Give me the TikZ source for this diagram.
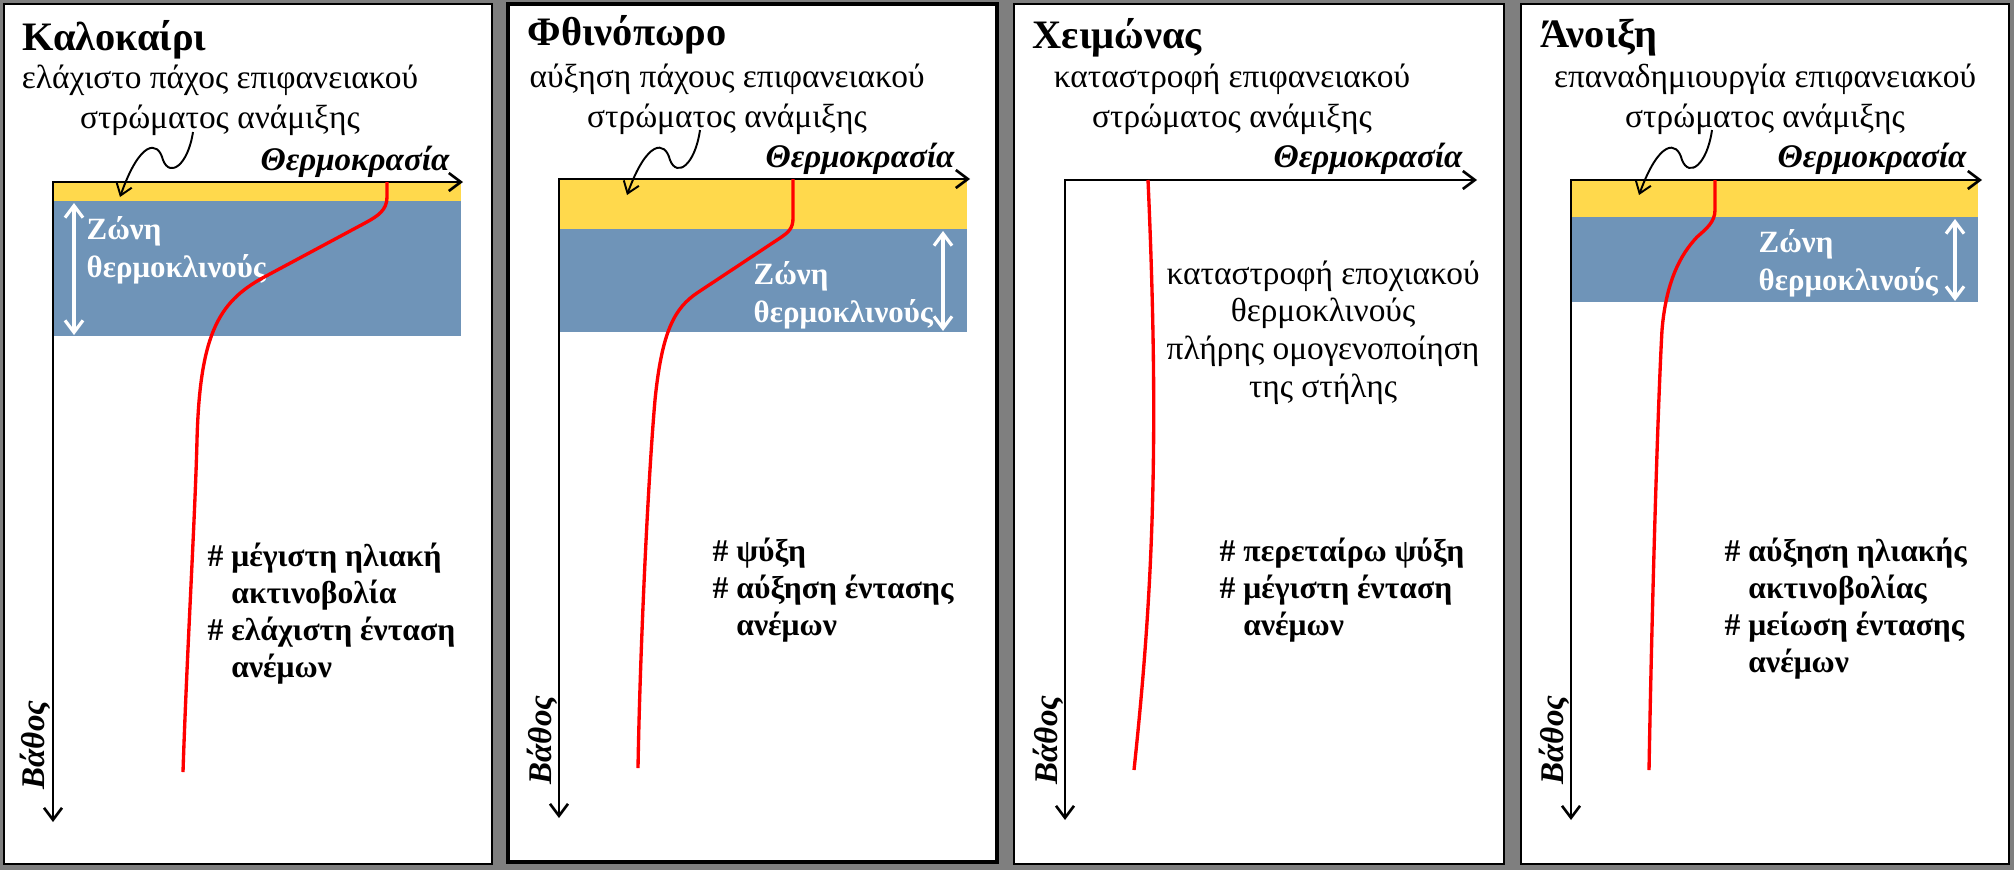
\documentclass[tikz,border=0pt]{standalone}
\usepackage{fontspec}
\setmainfont{Liberation Serif}
\usetikzlibrary{arrows.meta}
\definecolor{bggray}{RGB}{127,127,127}
\definecolor{mixyellow}{RGB}{255,217,76}
\definecolor{thermoblue}{RGB}{111,148,184}
\tikzset{
  panel/.style={draw=black,line width=0.8pt,fill=white},
  axis/.style={line width=0.75pt,{Straight Barb[length=1.2mm,width=1.8mm]}-{Straight Barb[length=1.2mm,width=1.8mm]}},
  profile/.style={red,line width=0.95pt},
  wavyarrow/.style={line width=0.55pt,-{Straight Barb[length=1.1mm,width=1.6mm]}},
  zonearrow/.style={white,line width=0.9pt,{Straight Barb[length=1.2mm,width=1.8mm]}-{Straight Barb[length=1.2mm,width=1.8mm]}},
  title/.style={font=\fontsize{11.5}{13}\selectfont\bfseries,anchor=base west,inner sep=0},
  subtitle/.style={font=\fontsize{9.5}{11.2}\selectfont,align=center,anchor=base,inner sep=0},
  axlabel/.style={font=\fontsize{9.4}{10}\selectfont\bfseries\itshape,inner sep=0},
  zonelabel/.style={font=\fontsize{8.8}{10.6}\selectfont\bfseries,white,align=left,anchor=base west,inner sep=0},
  bullets/.style={font=\fontsize{9}{10.5}\selectfont\bfseries,align=left,anchor=base west,inner sep=0},
  remark/.style={font=\fontsize{9.5}{10.7}\selectfont,align=center,anchor=base,inner sep=0}
}
\begin{document}
\begin{tikzpicture}[x=0.1mm,y=-0.1mm]
        \fill[bggray](0,0)rectangle(2014,870);
        \draw[panel](4,4)rectangle(492,864);
        \draw[panel,line width=1.4pt](508,4)rectangle(997,862);
        \draw[panel](1014,4)rectangle(1504,864);
        \draw[panel](1521,4)rectangle(2009,864);

        % Καλοκαίρι
        \fill[mixyellow](53,182)rectangle(461,201);
        \fill[thermoblue](53,201)rectangle(461,336);
        \coordinate (o1) at (53,182);
        \coordinate (t1) at (463,182);
        \coordinate (d1) at (53,822);
        \draw[axis](t1)--(o1)--(d1);
        \node[title](season1)at(22,50){Καλοκαίρι};
        \node[subtitle](sub1)at(220,128){ελάχιστο πάχος επιφανειακού\\στρώματος ανάμιξης};
        \node[axlabel,anchor=base east](temp1)at(450,170){Θερμοκρασία};
        \node[axlabel,anchor=base,rotate=90](depth1)at(44,745){Βάθος};
        \coordinate (m1) at (193,132);
        \coordinate (y1) at (120,197);
        \draw[wavyarrow](m1)..controls(188,165)and(170,178)..(163,160)..controls(158,140)and(140,140)..(y1);
        \coordinate (za1) at (74,203);
        \coordinate (zb1) at (74,335);
        \draw[zonearrow](za1)--(zb1);
        \node[zonelabel](zone1)at(86,277){Ζώνη\\θερμοκλινούς};
        \coordinate (s1) at (387,182);
        \coordinate (e1) at (183,772);
        \draw[profile](s1)--(387,197)..controls(387,210)and(378,216)..(365,223)--(268,275)..controls(220,300)and(200,330)..(197,440)..controls(195,520)and(187,650)..(e1);
        \node[bullets](note1)at(207,677){\# μέγιστη ηλιακή\\\phantom{\# }ακτινοβολία\\\# ελάχιστη ένταση\\\phantom{\# }ανέμων};

        % Φθινόπωρο
        \fill[mixyellow](559,179)rectangle(967,229);
        \fill[thermoblue](559,229)rectangle(967,332);
        \coordinate (o2) at (559,179);
        \coordinate (t2) at (970,179);
        \coordinate (d2) at (559,818);
        \draw[axis](t2)--(o2)--(d2);
        \node[title](season2)at(527,45){Φθινόπωρο};
        \node[subtitle](sub2)at(727,127){αύξηση πάχους επιφανειακού\\στρώματος ανάμιξης};
        \node[axlabel,anchor=base east](temp2)at(955,167){Θερμοκρασία};
        \node[axlabel,anchor=base,rotate=90](depth2)at(551,740){Βάθος};
        \coordinate (m2) at (700,130);
        \coordinate (y2) at (627,195);
        \draw[wavyarrow](m2)..controls(695,165)and(677,178)..(670,160)..controls(665,140)and(647,140)..(y2);
        \coordinate (za2) at (943,231);
        \coordinate (zb2) at (943,331);
        \draw[zonearrow](za2)--(zb2);
        \node[zonelabel](zone2)at(753,322){Ζώνη\\θερμοκλινούς};
        \coordinate (s2) at (793,179);
        \coordinate (e2) at (638,768);
        \draw[profile](s2)--(793,218)..controls(793,228)and(789,232)..(780,238)--(697,293)..controls(675,308)and(662,330)..(655,400)..controls(648,480)and(640,650)..(e2);
        \node[bullets](note2)at(712,635){\# ψύξη\\\# αύξηση έντασης\\\phantom{\# }ανέμων};

        % Χειμώνας
        \coordinate (o3) at (1065,180);
        \coordinate (t3) at (1477,180);
        \coordinate (d3) at (1065,820);
        \draw[axis](t3)--(o3)--(d3);
        \node[title](season3)at(1032,48){Χειμώνας};
        \node[subtitle](sub3)at(1232,127){καταστροφή επιφανειακού\\στρώματος ανάμιξης};
        \node[axlabel,anchor=base east](temp3)at(1463,167){Θερμοκρασία};
        \node[axlabel,anchor=base,rotate=90](depth3)at(1057,740){Βάθος};
        \coordinate (s3) at (1148,180);
        \coordinate (e3) at (1134,770);
        \draw[profile](s3)..controls(1160,450)and(1152,600)..(e3);
        \node[remark](mid3)at(1323,397){καταστροφή εποχιακού\\θερμοκλινούς\\πλήρης ομογενοποίηση\\της στήλης};
        \node[bullets](note3)at(1219,635){\# περεταίρω ψύξη\\\# μέγιστη ένταση\\\phantom{\# }ανέμων};

        % Άνοιξη
        \fill[mixyellow](1571,180)rectangle(1978,217);
        \fill[thermoblue](1571,217)rectangle(1978,302);
        \coordinate (o4) at (1571,180);
        \coordinate (t4) at (1982,180);
        \coordinate (d4) at (1571,820);
        \draw[axis](t4)--(o4)--(d4);
        \node[title](season4)at(1540,47){Άνοιξη};
        \node[subtitle](sub4)at(1765,127){επαναδημιουργία επιφανειακού\\στρώματος ανάμιξης};
        \node[axlabel,anchor=base east](temp4)at(1967,167){Θερμοκρασία};
        \node[axlabel,anchor=base,rotate=90](depth4)at(1563,740){Βάθος};
        \coordinate (m4) at (1712,130);
        \coordinate (y4) at (1639,195);
        \draw[wavyarrow](m4)..controls(1707,165)and(1689,178)..(1682,160)..controls(1677,140)and(1659,140)..(y4);
        \coordinate (za4) at (1955,219);
        \coordinate (zb4) at (1955,301);
        \draw[zonearrow](za4)--(zb4);
        \node[zonelabel](zone4)at(1758,290){Ζώνη\\θερμοκλινούς};
        \coordinate (s4) at (1715,180);
        \coordinate (e4) at (1649,770);
        \draw[profile](s4)--(1715,210)..controls(1715,222)and(1706,229)..(1697,237)..controls(1680,255)and(1666,282)..(1662,330)..controls(1658,400)and(1652,600)..(e4);
        \node[bullets](note4)at(1724,672){\# αύξηση ηλιακής\\\phantom{\# }ακτινοβολίας\\\# μείωση έντασης\\\phantom{\# }ανέμων};
\end{tikzpicture}
\end{document}
